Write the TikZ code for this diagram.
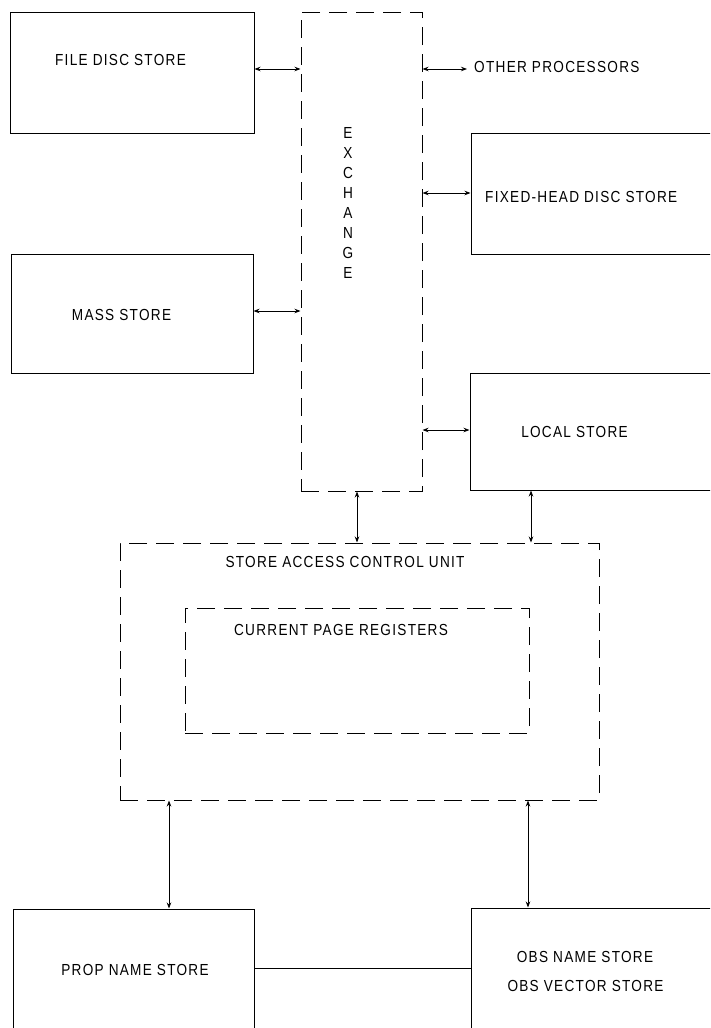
\documentclass[tikz,border=0pt]{standalone}
\usepackage{fontspec}
\setmainfont{Liberation Sans}[FakeStretch=0.85,LetterSpace=8]
\usetikzlibrary{arrows.meta}
\begin{document}
\begin{tikzpicture}[x=1pt,y=-1pt,
  blk/.style={draw,line width=1pt,inner sep=0pt,rectangle},
  dbox/.style={blk,dash pattern=on 18pt off 9pt},
  lbl/.style={font=\fontsize{16}{20}\selectfont,inner sep=0pt},
  dbl/.style={line width=0.9pt,{Stealth[length=6pt,width=4.5pt]}-{Stealth[length=6pt,width=4.5pt]}},
  conn/.style={line width=1pt}]
\useasboundingbox (0,0) rectangle (710,1028);
\clip (0,0) rectangle (710,1028);
\fill[white] (0,0) rectangle (710,1028);
% boxes
\node[blk,minimum width=244pt,minimum height=121pt] (fds) at (132,72.5) {};
\node[lbl] (fdsT) at (120.5,60) {FILE DISC STORE};
\node[blk,minimum width=242pt,minimum height=119pt] (mass) at (132,313.5) {};
\node[lbl] (massT) at (121.5,315) {MASS STORE};
\node[dbox,minimum width=121pt,minimum height=479pt] (exch) at (361.5,251.5) {};
\node[lbl,align=center] (exT) at (348,202.5) {E\\X\\C\\H\\A\\N\\G\\E};
\node[blk,minimum width=269pt,minimum height=121pt] (fhds) at (605.5,193.5) {};
\node[lbl,anchor=west] (fhdsT) at (485,197) {FIXED-HEAD DISC STORE};
\node[blk,minimum width=270pt,minimum height=117pt] (local) at (605,431.5) {};
\node[lbl] (localT) at (574.5,432) {LOCAL STORE};
\node[dbox,minimum width=479pt,minimum height=257pt] (sacu) at (359.5,671.5) {};
\node[lbl] (sacuT) at (345,562) {STORE ACCESS CONTROL UNIT};
\node[dbox,minimum width=344pt,minimum height=125pt] (cpr) at (357,670.5) {};
\node[lbl] (cprT) at (341,630) {CURRENT PAGE REGISTERS};
\node[blk,minimum width=241pt,minimum height=151pt] (prop) at (133.5,984.5) {};
\node[lbl] (propT) at (135,970) {PROP NAME STORE};
\node[blk,minimum width=269pt,minimum height=152pt] (obs) at (605.5,984) {};
\node[lbl] (obsT1) at (585,957) {OBS NAME STORE};
\node[lbl] (obsT2) at (585.5,986) {OBS VECTOR STORE};
\node[lbl,anchor=west] (opT) at (474,67) {OTHER PROCESSORS};
% helper coordinates
\coordinate (y1) at (0,69);
\coordinate (y2) at (0,311);
\coordinate (y3) at (0,193);
\coordinate (y4) at (0,430);
\coordinate (op) at (467,69);
\coordinate (x1) at (357,0);
\coordinate (x2) at (531,0);
\coordinate (x3) at (169,0);
\coordinate (x4) at (528,0);
\coordinate (y5) at (0,968);
% connectors
\draw[dbl] (fds.east |- y1) -- (exch.west |- y1);
\draw[dbl] (mass.east |- y2) -- (exch.west |- y2);
\draw[dbl] (exch.east |- op) -- (op);
\draw[dbl] (exch.east |- y3) -- (fhds.west |- y3);
\draw[dbl] (exch.east |- y4) -- (local.west |- y4);
\draw[dbl] (exch.south -| x1) -- (sacu.north -| x1);
\draw[dbl] (local.south -| x2) -- (sacu.north -| x2);
\draw[dbl] (sacu.south -| x3) -- (prop.north -| x3);
\draw[dbl] (sacu.south -| x4) -- (obs.north -| x4);
\draw[conn] (prop.east |- y5) -- (obs.west |- y5);
\end{tikzpicture}
\end{document}
